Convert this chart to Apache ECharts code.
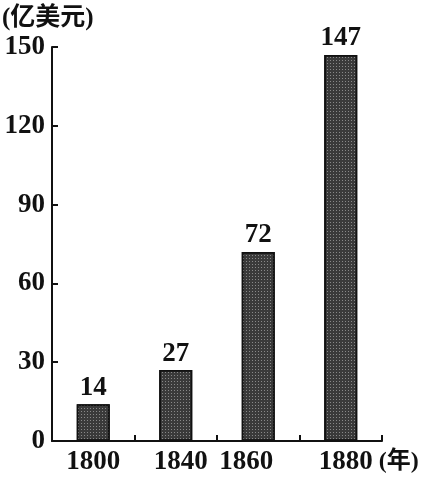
<!DOCTYPE html>
<html><head><meta charset="utf-8">
<script src="https://cdn.jsdelivr.net/npm/echarts@6/dist/echarts.min.js"></script>
<style>html,body{margin:0;padding:0;background:#fff}#c{width:424px;height:485px}</style>
</head><body><div id="c"></div>
<script>
const years = ['1800', '1840', '1860', '1880'];
const values = [14, 27, 72, 147];
const yTicks = [0, 30, 60, 90, 120, 150];
const unitLabel = '(亿美元)';
const xUnit = '(年)';

const serif = '"Liberation Serif","Noto Sans CJK SC",serif';
const FS = 27;
const chart = echarts.init(document.getElementById('c'));
chart.setOption({
  backgroundColor: '#fff',
  animation: false,
  grid: { left: 52, right: 42, top: 47, bottom: 44, outerBoundsMode: 'none', containLabel: false },
  graphic: [{
    type: 'text', left: 2, top: 6,
    style: { text: unitLabel, font: 'bold 25px ' + serif, fill: '#111' }
  }],
  xAxis: {
    type: 'category', data: years,
    name: xUnit, nameLocation: 'end', nameGap: -4,
    nameTextStyle: { fontFamily: serif, fontWeight: 'bold', fontSize: 24, color: '#111', verticalAlign: 'top', padding: [9, 0, 0, 0] },
    axisLine: { lineStyle: { color: '#111', width: 2 } },
    axisTick: { show: true, inside: true, length: 6, lineStyle: { color: '#111', width: 2 } },
    axisLabel: {
      interval: 0, margin: 8, color: '#111', fontFamily: serif, fontWeight: 'bold', fontSize: FS,
      formatter: function (v) {
        return v === '1840' ? '{r|' + v + '}' : v === '1860' ? '{l|' + v + '}' : v === '1880' ? '{e|' + v + '}' : v;
      },
      rich: {
        r: { fontFamily: serif, fontWeight: 'bold', fontSize: FS, color: '#111', padding: [0, 0, 0, 10] },
        l: { fontFamily: serif, fontWeight: 'bold', fontSize: FS, color: '#111', padding: [0, 24, 0, 0] },
        e: { fontFamily: serif, fontWeight: 'bold', fontSize: FS, color: '#111', padding: [0, 0, 0, 10] }
      }
    }
  },
  yAxis: {
    type: 'value', min: yTicks[0], max: yTicks[yTicks.length - 1], interval: 30,
    splitLine: { show: false },
    axisLine: { show: true, lineStyle: { color: '#111', width: 2 } },
    axisTick: { show: true, inside: true, length: 6, lineStyle: { color: '#111', width: 2 } },
    axisLabel: { margin: 7, color: '#111', fontFamily: serif, fontWeight: 'bold', fontSize: FS }
  },
  series: [{
    type: 'bar', data: values, barWidth: 33,
    itemStyle: {
      color: '#3a3a3a',
      borderColor: '#111', borderWidth: 1.5,
      decal: { symbol: 'rect', symbolSize: 1, color: 'rgba(255,255,255,0.4)', dashArrayX: [1, 2], dashArrayY: [1, 2], rotation: 0 }
    },
    label: { show: true, position: 'top', distance: 3, color: '#111', fontFamily: serif, fontWeight: 'bold', fontSize: FS }
  }]
});
</script></body></html>
